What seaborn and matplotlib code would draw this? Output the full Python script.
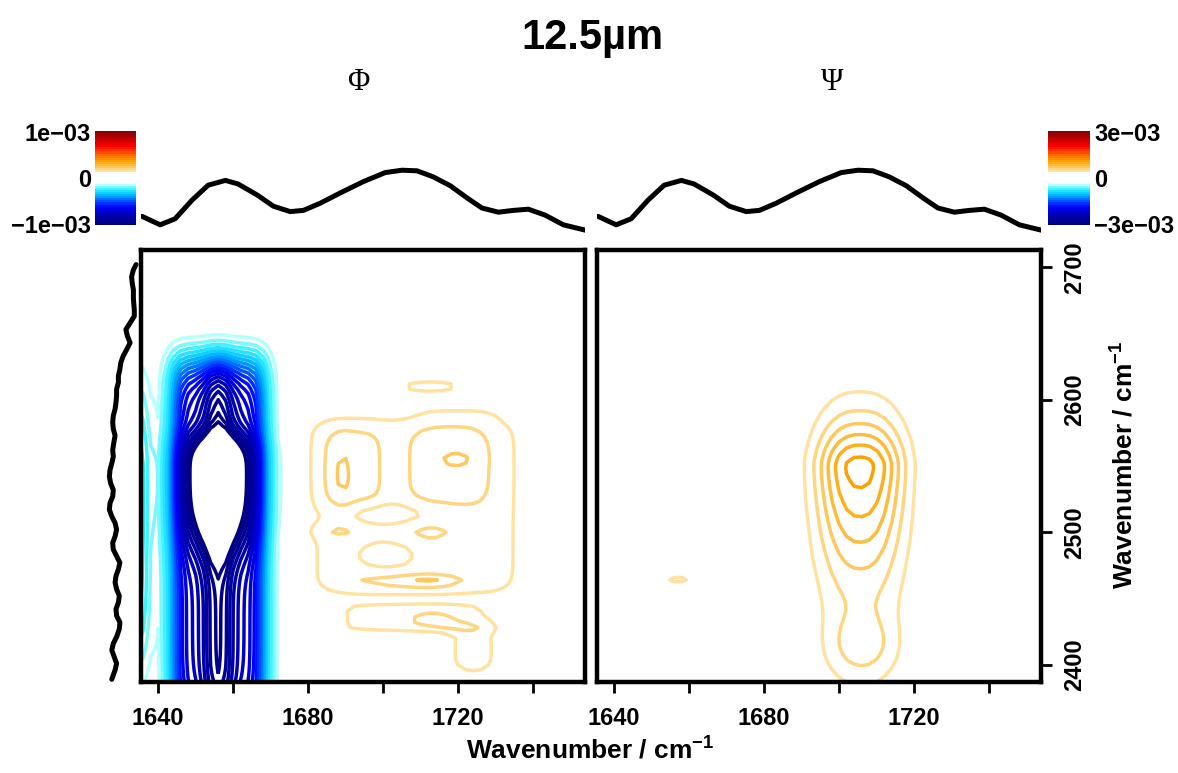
import numpy as np
import matplotlib
matplotlib.use("Agg")
import matplotlib.pyplot as plt
from matplotlib.colors import LinearSegmentedColormap
import seaborn as sns

sns.set_theme(style="white")
plt.rcParams['font.family'] = ['Liberation Sans', 'DejaVu Sans']
plt.rcParams['font.weight'] = 'bold'
plt.rcParams['mathtext.default'] = 'regular'
plt.rcParams['text.color'] = 'black'
plt.rcParams['xtick.color'] = 'black'
plt.rcParams['ytick.color'] = 'black'

title = "12.5µm"
panel_names = ["Φ", "Ψ"]
cbar_max = [1e-3, 3e-3]          # colour scale limits of each map
cbar_labels = [["−1e−03", "0", "1e−03"], ["−3e−03", "0", "3e−03"]]
n_levels = [20, 20]              # contour levels on each side of zero
x_ticks = [1640, 1660, 1680, 1700, 1720, 1740]
x_ticklabels = ["1640", "", "1680", "", "1720", ""]
y_ticks = [2400, 2500, 2600, 2700]

# mean spectrum drawn above both maps
top_wn = [1635.7, 1640.5, 1644.5, 1649.0, 1653.3, 1657.9, 1661.3, 1666.3, 1670.7,
          1675.2, 1678.7, 1683.2, 1688.5, 1694.7, 1700.5, 1705.0, 1709.0, 1713.3,
          1717.9, 1722.3, 1726.3, 1730.7, 1734.7, 1738.7, 1743.2, 1748.0, 1753.9]
top_abs = [0.26, 0.12, 0.22, 0.53, 0.78, 0.86, 0.80, 0.62, 0.43, 0.34, 0.36, 0.48,
           0.65, 0.84, 0.99, 1.03, 1.02, 0.92, 0.77, 0.57, 0.40, 0.33, 0.36, 0.38,
           0.28, 0.12, 0.03]

# mean spectrum drawn left of the maps
left_wn = [2702, 2698, 2693, 2688, 2683, 2676, 2668, 2663, 2658, 2653, 2648, 2643,
           2638, 2633, 2628, 2623, 2618, 2613, 2608, 2603, 2598, 2593, 2588, 2583,
           2578, 2573, 2568, 2562, 2557, 2552, 2547, 2542, 2537, 2532, 2527, 2522,
           2517, 2512, 2507, 2502, 2497, 2492, 2487, 2482, 2477, 2472, 2467, 2462,
           2457, 2452, 2447, 2442, 2437, 2432, 2427, 2421, 2416, 2411, 2406, 2401,
           2396, 2391, 2389]
left_abs = [0.03, 0.12, 0.18, 0.16, 0.12, 0.12, 0.09, 0.09, 0.23, 0.37, 0.32, 0.23,
            0.34, 0.46, 0.54, 0.57, 0.62, 0.62, 0.68, 0.68, 0.70, 0.73, 0.79, 0.81,
            0.79, 0.73, 0.77, 0.81, 0.79, 0.84, 0.90, 0.92, 0.88, 0.79, 0.81, 0.90,
            0.92, 0.84, 0.73, 0.68, 0.73, 0.81, 0.79, 0.68, 0.57, 0.62, 0.70, 0.73,
            0.68, 0.59, 0.62, 0.70, 0.68, 0.57, 0.59, 0.68, 0.79, 0.84, 0.76, 0.68,
            0.73, 0.81, 0.84]

# correlation features (units 1e-3): x0, wx, px, y0, wy_below, wy_above, py, amp
phi_negative = [
    (1656.0, 13.2, 6, 2490, 142.6, 142.6, 10, -0.70),
    (1656.0, 4.0, 2, 2490, 142.6, 142.6, 10, -0.27),
    (1656.0, 10.0, 2, 2545, 56.0, 28.0, 3, -0.56),
    (1634.0, 4.0, 2, 2505, 110.0, 110.0, 4, -0.25),
]
phi_positive = [
    (1708.4, 30.5, 6, 2519, 70.1, 70.1, 12, 0.075),
    (1691.0, 8.8, 4, 2549, 31.8, 31.8, 4, 0.050),
    (1689.0, 3.0, 2, 2543, 27.0, 27.0, 2, 0.040),
    (1718.0, 12.0, 4, 2551, 34.5, 34.5, 4, 0.050),
    (1719.5, 5.0, 2, 2555, 7.0, 7.0, 2, 0.040),
    (1701.0, 13.0, 2, 2514, 9.0, 9.0, 2, -0.055),
    (1688.0, 6.0, 2, 2501, 5.5, 5.5, 2, 0.040),
    (1712.0, 7.3, 2, 2500, 7.3, 7.3, 2, 0.040),
    (1700.8, 9.1, 2, 2482.5, 13.7, 13.7, 2, -0.045),
    (1704.0, 15.0, 4, 2463.5, 7.0, 7.0, 2, 0.040),
    (1712.5, 8.9, 2, 2463, 3.7, 3.7, 2, 0.055),
    (1708.0, 22.0, 4, 2435, 10.95, 10.95, 6, 0.075),
    (1724.0, 7.0, 2, 2412, 20.0, 20.0, 4, 0.080),
    (1713.0, 7.3, 2, 2434, 7.3, 7.3, 2, 0.040),
    (1712.5, 10.0, 2, 2610, 5.0, 5.0, 2, 0.080),
    (1720.0, 10.0, 4, 2588, 6.0, 6.0, 2, 0.040),
]
psi_positive = [
    (1705.5, 11.5, 2.5, 2550, 83.0, 38.0, 1.6, 0.96),
    (1706.0, 9.0, 2, 2414, 24.0, 24.0, 2, 0.25),
    (1706.0, 12.0, 2, 2440, 80.0, 80.0, 4, 0.06),
    (1657.0, 3.0, 2, 2465, 2.5, 2.5, 2, 0.30),
]

x_grid = np.arange(1634, 1757, 2.0)
y_grid = np.arange(2384, 2718, 4.0)

pos_cmap = LinearSegmentedColormap.from_list(
    "pos", [(0.0, "#FFE2A0"), (0.1, "#FFC860"), (0.25, "#FFA500"), (0.45, "#FF5A00"),
            (0.62, "#FF0000"), (0.8, "#CC0000"), (1.0, "#8B0000")])
neg_cmap = LinearSegmentedColormap.from_list(
    "neg", [(0.0, "#B5FFFF"), (0.1, "#40F4FF"), (0.25, "#00C0FF"), (0.4, "#0060FF"),
            (0.55, "#0000FF"), (0.75, "#0000B0"), (1.0, "#000080")])


def make_field(peaks):
    X, Y = np.meshgrid(x_grid, y_grid)
    Z = np.zeros_like(X)
    for x0, wx, px, y0, wlo, whi, py, amp in peaks:
        wy = np.where(Y < y0, wlo, whi)
        Z += amp * np.exp(-(np.abs(X - x0) / wx) ** px) * np.exp(-(np.abs(Y - y0) / wy) ** py)
    return X, Y, Z * 1e-3


def level_colors(vmax, n):
    frac = np.arange(1, n + 1) / n
    t = np.arange(n) / (n - 1)
    neg = [neg_cmap(v) for v in t[::-1]]
    pos = [pos_cmap(v) for v in t]
    levels = np.concatenate([-vmax * frac[::-1], vmax * frac])
    return levels, neg + pos


W, H = 1178, 773


def box(x0, y0, x1, y1):
    return [x0 / W, 1 - y1 / H, (x1 - x0) / W, (y1 - y0) / H]


fig = plt.figure(figsize=(W / 100, H / 100), dpi=100)
xlim = (1635.4, 1753.8)
ylim = (2387, 2713)

fields = [make_field(phi_negative + phi_positive), make_field(psi_positive)]
main_boxes = [(141, 250, 585, 682), (597, 250, 1041, 682)]
name_x = [358, 832]

for i in range(2):
    x0, y0, x1, y1 = main_boxes[i]
    ax = fig.add_axes(box(x0, y0, x1, y1))
    X, Y, Z = fields[i]
    levels, colors = level_colors(cbar_max[i], n_levels[i])
    ax.contour(X, Y, Z, levels=levels, colors=colors, linewidths=2.5)
    ax.set_xlim(xlim)
    ax.set_ylim(ylim)
    for s in ax.spines.values():
        s.set_color("black")
        s.set_linewidth(3.2)
    ax.set_xticks(x_ticks)
    ax.set_xticklabels(x_ticklabels, fontsize=17, fontweight="bold")
    ax.tick_params(axis="x", direction="out", length=8, width=2, bottom=True, pad=10, color="black")
    if i == 1:
        ax.yaxis.tick_right()
        ax.set_yticks(y_ticks)
        ax.set_yticklabels([str(v) for v in y_ticks], rotation=90, va="center",
                           fontsize=17, fontweight="bold")
        ax.tick_params(axis="y", direction="out", length=8, width=2, right=True, pad=8, color="black")
    else:
        ax.set_yticks([])

    # spectrum on top
    axt = fig.add_axes(box(x0, 150, x1, 245))
    sns.lineplot(x=top_wn, y=top_abs, ax=axt, color="black", linewidth=3.6)
    axt.set_xlim(xlim)
    axt.set_ylim(-0.217, 1.367)
    axt.set_axis_off()

    fig.text(name_x[i] / W, 1 - 83 / H, panel_names[i], family="Liberation Serif",
             fontweight="normal", fontsize=22, ha="center", va="center")

# spectrum on the left
axl = fig.add_axes(box(100, 250, 140, 682))
sns.lineplot(x=left_abs, y=left_wn, orient="y", ax=axl, color="black", linewidth=3.6)
axl.set_xlim(1.233, -0.1)
axl.set_ylim(ylim)
axl.set_axis_off()

# colour bars
cbar_boxes = [(95, 131, 136, 225), (1048, 131, 1090, 225)]
for i in range(2):
    axc = fig.add_axes(box(*cbar_boxes[i]))
    nb = 20
    edges = np.linspace(0.128, 1.0, nb + 1)
    t = np.linspace(0, 1, nb)
    for j in range(nb):
        axc.axhspan(edges[j], edges[j + 1], color=pos_cmap(t[j]), lw=0)
        axc.axhspan(-edges[j + 1], -edges[j], color=neg_cmap(t[j]), lw=0)
    axc.set_xlim(0, 1)
    axc.set_ylim(-1, 1)
    axc.set_xticks([])
    axc.set_yticks([-0.97, 0, 0.97])
    axc.set_yticklabels(cbar_labels[i], fontsize=17, fontweight="bold")
    for s in axc.spines.values():
        s.set_visible(False)
    axc.tick_params(axis="y", length=0, pad=3)
    if i == 1:
        axc.yaxis.tick_right()

fig.text(592 / W, 1 - 38 / H, title, fontsize=30, fontweight="bold", ha="center", va="center")
fig.text(590 / W, 1 - 750 / H, "Wavenumber / cm$^{-1}$", fontsize=19, fontweight="bold",
         ha="center", va="center")
fig.text(1125 / W, 1 - 465 / H, "Wavenumber / cm$^{-1}$", fontsize=19, fontweight="bold",
         ha="center", va="center", rotation=90)

fig.savefig("out.png", dpi=100, facecolor="white")
